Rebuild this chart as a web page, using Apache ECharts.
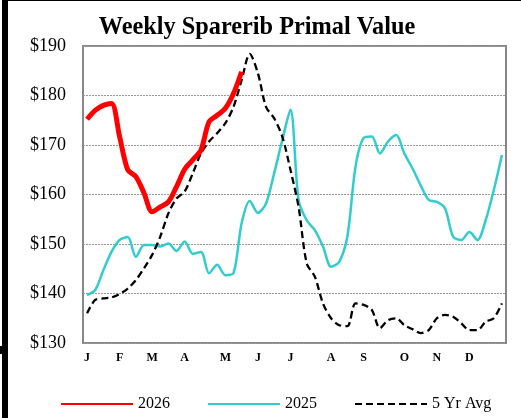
<!DOCTYPE html>
<html>
<head>
<meta charset="utf-8">
<script src="https://cdn.jsdelivr.net/npm/echarts@6/dist/echarts.min.js"></script>
<style>
html,body{margin:0;padding:0;background:#fff;}
#c{width:521px;height:418px;}
</style>
</head>
<body>
<div id="c"></div>
<script>
const monthLabels = ["J","F","M","A","M","J","J","A","S","O","N","D"];
const monthStartWeeks = [0,4,8,12,17,21,25,30,34,39,43,47];
const weeks = Array.from({length:52},(_,i)=>String(i+1));

const s2026 = [175.2,177,178,178.4,171.7,165,163.6,160.3,156.5,157.5,158.5,161.6,165.1,167,169,174.7,176,177.4,180.4,184.8];
const s2025 = [139.7,140.7,144.7,148.4,150.8,151.4,147.4,149.8,149.8,149.5,150.1,148.6,150.5,148,148.4,144.1,145.8,143.7,144.1,154.2,158.7,156.3,158.2,164.3,171,177.1,158.9,154.8,152.8,149.5,145.4,146.4,151.5,165.6,171.4,171.7,168.3,170.7,172,168.3,165.3,161.9,158.9,158.5,157.2,151.5,150.8,152.4,150.8,154.8,160.9,168];
const s5yr = [136,138.7,139,139.2,139.9,141,142.7,145.1,147.8,151.5,156.2,159.2,160.6,164.3,168.3,170.7,172.4,174.4,177.7,183.1,188.4,184.5,177.7,175.4,171.7,165,157.5,146.1,143.4,138,135,133.6,133.4,138,137.7,136.7,133,134.6,135,133.6,132.8,132,132.6,135,135.7,135.3,134,132.6,132.6,134.3,135,138];

const chart = echarts.init(document.getElementById('c'));
const serif = '"Liberation Serif","Times New Roman",serif';
chart.setOption({
  animation:false,
  backgroundColor:'#fff',
  title:{text:'Weekly Sparerib Primal Value',left:252,textAlign:'center',top:11,
    textStyle:{fontFamily:serif,fontWeight:'bold',fontSize:24.3,color:'#000'}},
  grid:{left:83,right:15,top:46,bottom:75,show:true,borderColor:'#888',borderWidth:2,backgroundColor:'transparent'},
  legend:{left:60,top:396,padding:0,itemWidth:72,itemHeight:10,itemGap:37,
    itemStyle:{opacity:0},
    textStyle:{fontFamily:serif,fontSize:16,color:'#000'},
    data:['2026','2025','5 Yr Avg']},
  xAxis:{type:'category',data:weeks,boundaryGap:true,
    axisLine:{show:false},axisTick:{show:false},
    axisLabel:{interval:0,margin:9,fontFamily:serif,fontSize:12,fontWeight:'bold',color:'#000',
      formatter:(v,i)=>{const k=monthStartWeeks.indexOf(i);return k>=0?monthLabels[k]:'';}}},
  yAxis:{type:'value',min:130,max:190,interval:10,
    axisLine:{show:false},axisTick:{show:false},
    axisLabel:{margin:17,fontFamily:serif,fontSize:18,color:'#000',formatter:v=>'$'+v},
    splitLine:{lineStyle:{color:'#999',type:[2,1],width:1}}},
  series:[
    {name:'2026',type:'line',data:s2026,smooth:0.3,showSymbol:false,symbol:'none',z:5,
      lineStyle:{color:'#ff0000',width:5},itemStyle:{color:'#ff0000'}},
    {name:'2025',type:'line',data:s2025,smooth:0.3,showSymbol:false,symbol:'none',z:3,
      lineStyle:{color:'#33cccc',width:2.5},itemStyle:{color:'#33cccc'}},
    {name:'5 Yr Avg',type:'line',data:s5yr,smooth:0.3,showSymbol:false,symbol:'none',z:4,
      lineStyle:{color:'#000',width:2.3,type:[7,4]},itemStyle:{color:'#000'}}
  ],
  graphic:[
    {type:'rect',left:2,top:0,shape:{width:6,height:418},style:{fill:'#000'}},
    {type:'rect',left:0,top:346,shape:{width:8,height:8},style:{fill:'#000'}},
    {type:'rect',left:8,top:0,shape:{width:513,height:1},style:{fill:'#000'}}
  ]
});
</script>
</body>
</html>
